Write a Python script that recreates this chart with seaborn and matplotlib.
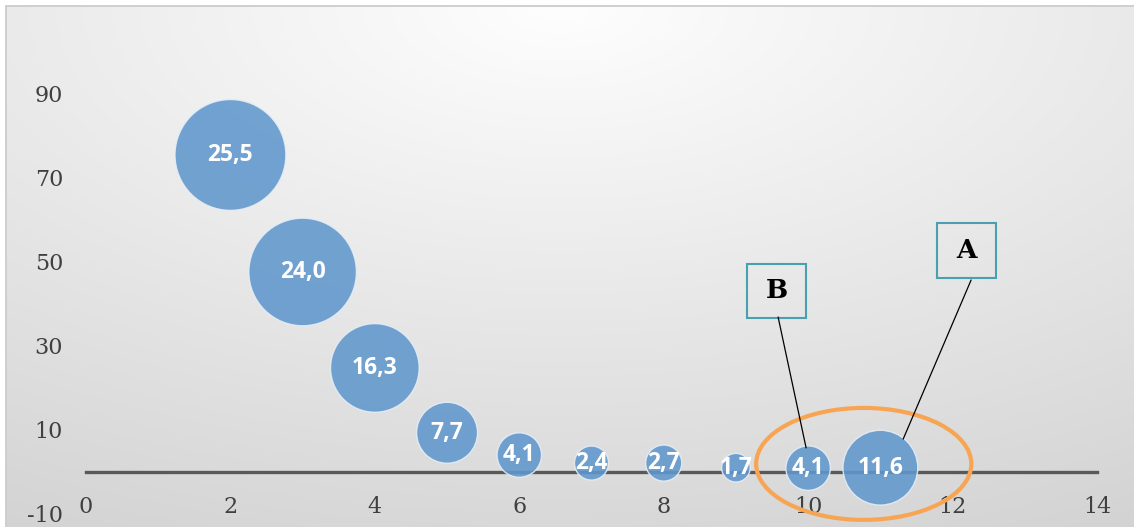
import numpy as np
import pandas as pd
import matplotlib
matplotlib.use("Agg")
import matplotlib.pyplot as plt
from matplotlib.patches import Ellipse, Rectangle
import seaborn as sns

# ---- data ----
x_vals = [2, 3, 4, 5, 6, 7, 8, 9, 10, 11]
y_vals = [75.3, 47.5, 24.7, 9.3, 4.0, 2.1, 2.1, 1.0, 0.9, 1.0]
bubble_sizes = [25.5, 24.0, 16.3, 7.7, 4.1, 2.4, 2.7, 1.7, 4.1, 11.6]
bubble_labels = ["25,5", "24,0", "16,3", "7,7", "4,1", "2,4", "2,7", "1,7", "4,1", "11,6"]
x_ticks = [0, 2, 4, 6, 8, 10, 12, 14]
y_ticks = [-10, 10, 30, 50, 70, 90]

df = pd.DataFrame({"x": x_vals, "y": y_vals, "size": bubble_sizes})

sns.set_theme(style="white")
W, H = 1134, 527
fig = plt.figure(figsize=(W / 100, H / 100), dpi=100)

# ---- background gradient + frame ----
bg = fig.add_axes([0, 0, 1, 1], zorder=0)
bg.axis("off")
yy, xx = np.mgrid[0:H, 0:W]
d = np.sqrt(((xx - 560) / 1065.0) ** 2 + ((yy - 6) / 520.0) ** 2)
g = np.clip(254 - 38 * d, 0, 255)
g[(xx < 6) | (yy < 6)] = 255
img = np.dstack([g, g, g]).astype(np.uint8)
bg.imshow(img, extent=(0, W, H, 0), aspect="auto", interpolation="bilinear")
bg.plot([6, 6], [6, H], color="#CCCCCC", lw=1.3)
bg.plot([6, W], [6, 6], color="#CCCCCC", lw=1.3)
bg.set_xlim(0, W)
bg.set_ylim(H, 0)

# ---- main axes ----
ax = fig.add_axes([86 / W, 13 / H, 1011 / W, 463 / H], zorder=1)
ax.set_facecolor("none")

sns.scatterplot(
    data=df, x="x", y="y", size="size",
    sizes=(250 * min(bubble_sizes), 250 * max(bubble_sizes)),
    size_norm=(min(bubble_sizes), max(bubble_sizes)),
    color="#6097CC", alpha=0.88, edgecolor="#E6EEF6", linewidth=1.0,
    legend=False, ax=ax, zorder=3,
)

for xv, yv, lab in zip(x_vals, y_vals, bubble_labels):
    ax.text(xv, yv, lab, ha="center", va="center", color="white",
            fontsize=16.5, fontweight="bold", family="Open Sans", zorder=5)

ax.set_xlim(0, 14)
ax.set_ylim(-10, 100)
ax.set_xticks(x_ticks)
ax.set_yticks(y_ticks)
ax.set_xticklabels([str(v) for v in x_ticks])
ax.set_yticklabels([str(v) for v in y_ticks])
ax.set_xlabel("")
ax.set_ylabel("")
for s in ["top", "right", "left"]:
    ax.spines[s].set_visible(False)
ax.spines["bottom"].set_position(("data", 0))
ax.spines["bottom"].set_color("#595959")
ax.spines["bottom"].set_linewidth(2.4)
ax.spines["bottom"].set_zorder(2)
ax.tick_params(axis="both", length=0, labelsize=16, labelcolor="#404040")
ax.tick_params(axis="x", pad=17)
ax.tick_params(axis="y", pad=16.5)
for t in ax.get_xticklabels() + ax.get_yticklabels():
    t.set_family("DejaVu Serif")
ax.grid(False)

# ---- annotations ----
ax.add_patch(Ellipse((10.77, 1.9), 2.98, 26.6, fill=False,
                     edgecolor="#F8A553", lw=3, zorder=6, clip_on=False))

boxes = [("B", 9.155, 36.6, 0.817, 12.8, (9.584, 36.8), (9.972, 5.7)),
         ("A", 11.787, 46.1, 0.817, 13.0, (12.257, 45.6), (11.316, 7.8))]
for lab, bx, by, bw, bh, p0, p1 in boxes:
    ax.add_patch(Rectangle((bx, by), bw, bh, fill=False, edgecolor="#4A9FB0",
                           lw=1.5, zorder=6))
    ax.text(bx + bw / 2, by + bh / 2, lab, ha="center", va="center",
            fontsize=19, fontweight="bold", family="DejaVu Serif",
            color="black", zorder=7)
    ax.plot([p0[0], p1[0]], [p0[1], p1[1]], color="black", lw=0.9, zorder=6)

fig.savefig("out.png", dpi=100)
